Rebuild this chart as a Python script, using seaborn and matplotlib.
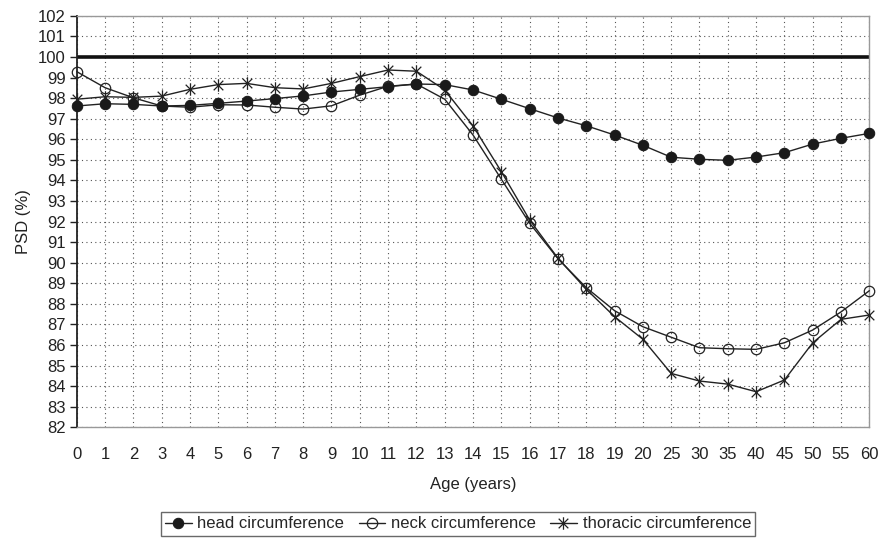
import numpy as np
import pandas as pd
import matplotlib.pyplot as plt
from matplotlib.path import Path
import seaborn as sns

AGES = ["0", "1", "2", "3", "4", "5", "6", "7", "8", "9", "10", "11", "12", "13", "14",
        "15", "16", "17", "18", "19", "20", "25", "30", "35", "40", "45", "50", "55", "60"]

HEAD = [97.62, 97.73, 97.70, 97.62, 97.65, 97.75, 97.86, 97.98, 98.11, 98.30, 98.43,
        98.56, 98.69, 98.66, 98.40, 97.95, 97.49, 97.04, 96.66, 96.21, 95.71,
        95.13, 95.03, 94.98, 95.14, 95.35, 95.77, 96.05, 96.29]
NECK = [99.29, 98.51, 98.02, 97.62, 97.56, 97.68, 97.67, 97.56, 97.47, 97.63, 98.15,
        98.58, 98.69, 97.95, 96.21, 94.06, 91.92, 90.20, 88.79, 87.67, 86.89,
        86.38, 85.87, 85.82, 85.79, 86.11, 86.73, 87.61, 88.64]
THORACIC = [97.95, 98.07, 98.04, 98.10, 98.43, 98.66, 98.72, 98.51, 98.45, 98.72, 99.05,
            99.37, 99.31, 98.40, 96.65, 94.43, 92.08, 90.22, 88.71, 87.38, 86.28,
            84.62, 84.25, 84.10, 83.73, 84.30, 86.11, 87.25, 87.46]

REF_LEVEL = 100
FS = 12

sns.set_theme(style="white")
plt.rcParams["font.family"] = ["Liberation Sans", "DejaVu Sans"]

# Excel-style star marker: an X with a vertical bar through it
star = Path([(-1, -1), (1, 1), (-1, 1), (1, -1), (0, -1.3), (0, 1.3)],
            [Path.MOVETO, Path.LINETO, Path.MOVETO, Path.LINETO, Path.MOVETO, Path.LINETO])

pos = np.arange(len(AGES))
df = pd.DataFrame({"pos": pos, "head": HEAD, "neck": NECK, "thoracic": THORACIC})

fig = plt.figure(figsize=(8.79, 5.39), dpi=100)
ax = fig.add_axes([0.0873, 0.2072, 0.9017, 0.7633])

ax.axhline(REF_LEVEL, color="#111111", lw=2.6, zorder=2)

sns.lineplot(data=df, x="pos", y="head", ax=ax, color="#222222", lw=1.0,
             marker="o", markersize=7.5, markerfacecolor="#1a1a1a",
             markeredgecolor="#1a1a1a", label="head circumference", zorder=5,
             clip_on=False)
sns.lineplot(data=df, x="pos", y="neck", ax=ax, color="#222222", lw=1.0,
             marker="o", markersize=7.5, markerfacecolor="none",
             markeredgecolor="#222222", markeredgewidth=0.9,
             label="neck circumference", zorder=4, clip_on=False)
sns.lineplot(data=df, x="pos", y="thoracic", ax=ax, color="#222222", lw=1.0,
             marker=star, markersize=9, markerfacecolor="none",
             markeredgecolor="#222222", markeredgewidth=0.9,
             label="thoracic circumference", zorder=3, clip_on=False)

ax.set_xlim(pos[0], pos[-1])
ax.set_ylim(82, 102)
ax.set_xticks(pos)
ax.set_xticklabels(AGES)
ax.set_yticks(np.arange(82, 103, 1))
ax.grid(True, which="major", color="#555555", ls=(0, (1, 3)), lw=0.8)
ax.set_axisbelow(True)

for side in ["top", "right", "bottom"]:
    ax.spines[side].set_color("#999999")
    ax.spines[side].set_linewidth(1.0)
ax.spines["left"].set_color("#222222")
ax.spines["left"].set_linewidth(1.3)

ax.tick_params(axis="x", length=0, pad=14, labelsize=FS, colors="#222222")
ax.tick_params(axis="y", left=True, length=5, width=1, pad=3, labelsize=FS,
               colors="#222222")

ax.set_xlabel("Age (years)", fontsize=FS, color="#222222", labelpad=11)
ax.set_ylabel("PSD (%)", fontsize=FS, color="#222222", labelpad=5)

leg = ax.legend(loc="center", bbox_to_anchor=(0.521, 0.028), bbox_transform=fig.transFigure,
                ncol=3, frameon=True, fancybox=False, fontsize=FS,
                handlelength=1.6, handletextpad=0.35, columnspacing=0.85,
                borderpad=0.25, borderaxespad=0)
leg.get_frame().set_edgecolor("#444444")
leg.get_frame().set_linewidth(1.0)

fig.savefig("out.png", dpi=100)
